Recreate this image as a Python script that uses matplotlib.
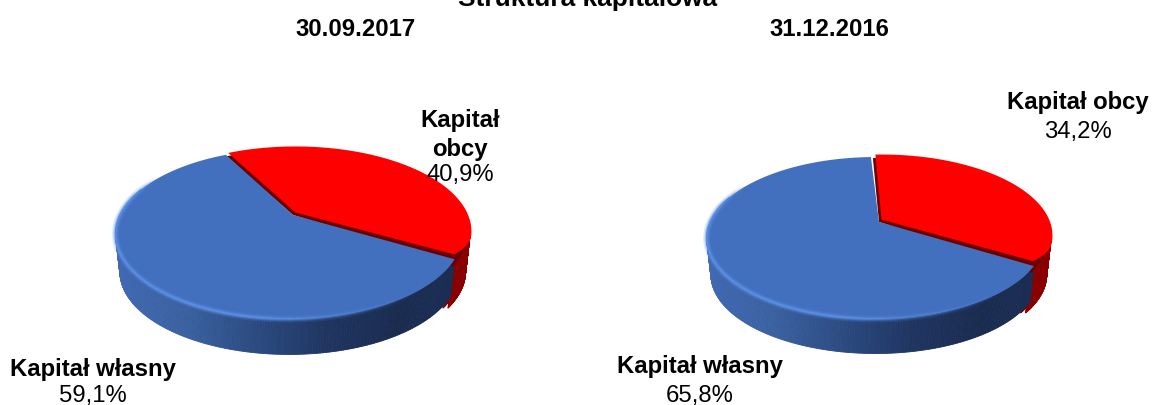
import numpy as np
import matplotlib
matplotlib.use('Agg')
import matplotlib.pyplot as plt
from matplotlib.collections import LineCollection, PolyCollection
from matplotlib.colors import LinearSegmentedColormap, to_rgba

plt.rcParams['font.family'] = ['Liberation Sans', 'DejaVu Sans']

title = 'Struktura kapitałowa'
dates = ['30.09.2017', '31.12.2016']
labels = ['Kapitał własny', 'Kapitał obcy']
own = [59.1, 65.8]
debt = [40.9, 34.2]

# 3d look: hub x, hub y, half width, perspective terms, first angle, gap
pies = [
    dict(cx=293, cy=216, X=171.5, A=80.8, C=-0.2235, start=-28, gap=-1.4, depth=38, s=0.975, shift=-4),
    dict(cx=879, cy=223, X=167.6, A=77.8, C=-0.1975, start=-2.5, gap=-0.6, depth=37, s=0.975, shift=-3.5),
]

side_blue = LinearSegmentedColormap.from_list('b', ['#4169B2', '#3A609F', '#2B4A80', '#1F3560', '#1A2B50', '#1C2E55'])
side_red = LinearSegmentedColormap.from_list('r', ['#6E0000', '#7E0000', '#8A0000'])


def project(p, ang, r=1.0, dx=0.0, dy=0.0, xs=1.0):
    t = np.radians(ang)
    u = r * np.sin(t)
    v = -r * np.cos(t)
    w = 1 + p['C'] * v
    return p['cx'] + dx + xs * p['X'] * u / w, p['cy'] + dy + p['A'] * v / w


def wedge(p, a0, a1, dx=0.0, dy=0.0, xs=1.0, hub=(0.0, 0.0), r=1.0):
    ang = np.linspace(a0, a1, 200)
    x, y = project(p, ang, r=r, dx=dx, dy=dy, xs=xs)
    hx, hy = p['cx'] + hub[0], p['cy'] + hub[1]
    return np.column_stack([np.r_[hx, x], np.r_[hy, y]])


def draw_side(ax, p, a0, a1, cmap, dx=0.0, dy=0.0, xs=1.0):
    ang = np.linspace(a0, a1, 240)
    x, y = project(p, ang, dx=dx, dy=dy, xs=xs)
    bx = p['cx'] + dx + (x - p['cx'] - dx) * p['s']
    by = p['cy'] + dy + (y - p['cy'] - dy) * p['s'] + p['depth']
    quads, cols = [], []
    for i in range(len(ang) - 1):
        quads.append([(x[i], y[i]), (x[i + 1], y[i + 1]), (bx[i + 1], by[i + 1]), (bx[i], by[i])])
        # left side of the pie is lighter, right side darker
        f = np.clip((x[i] - p['cx'] + p['X'] * 1.03) / (2.06 * p['X']), 0, 1)
        cols.append(cmap(f))
    ax.add_collection(PolyCollection(quads, facecolors=cols, edgecolors=cols, linewidths=0.6, zorder=2))


def draw_rim(ax, p, a0, a1, dx, xs):
    # light edge of the blue top, strongest at the front left
    ang = np.linspace(a0, a1, 240)
    x, y = project(p, ang, dx=dx, xs=xs)
    pts = np.column_stack([x, y]).reshape(-1, 1, 2)
    segs = np.concatenate([pts[:-1], pts[1:]], axis=1)
    f = np.clip((p['cx'] + p['X'] * 0.75 - x[:-1]) / (1.0 * p['X']), 0, 1)
    f = f * np.clip((a1 - ang[:-1]) / 18, 0, 1)
    for lw, al in [(5, 0.2), (3, 0.4), (1.5, 0.7)]:
        cols = [to_rgba('#5F93EA', al * k) for k in f]
        ax.add_collection(LineCollection(segs, colors=cols, linewidths=lw, zorder=5, capstyle='butt'))


fig = plt.figure(figsize=(11.52, 4.06), dpi=100)
ax = fig.add_axes([0, 0, 1, 1])
ax.set_xlim(0, 1152)
ax.set_ylim(406, 0)
ax.axis('off')

for p, a, b in zip(pies, own, debt):
    red_end = p['start'] + 360 * b / 100
    blue_end = p['start'] + 360 - p['gap']
    xs = 1 + p['shift'] / p['X'] * 0.6
    # red corner at the front gets rounded in
    ang = np.linspace(p['start'], red_end, 200)
    taper = 1 - 0.05 * np.clip((ang - (red_end - 14)) / 14, 0, 1) ** 2
    draw_side(ax, p, 70, red_end + 8, side_red, dx=1)
    draw_side(ax, p, 70, red_end + 8, side_red, dx=-4)
    draw_side(ax, p, red_end, 290, side_blue, dx=p['shift'], xs=xs)
    ax.fill(*wedge(p, p['start'], red_end, dy=1, r=(1 + taper) / 2).T, color='#6A0000', lw=0, zorder=3)
    ax.fill(*wedge(p, red_end - 3, red_end + 4, dy=1, dx=-3).T, color='#6A0000', lw=0, zorder=3)
    ax.fill(*wedge(p, p['start'], red_end, dx=2.5, dy=-2.5, hub=(2.5, -2.5), r=taper).T, color='#FF0000', lw=0, zorder=4)
    ax.fill(*wedge(p, red_end, blue_end, dx=p['shift'], xs=xs).T, color='#4270BF', lw=0, zorder=4)
    draw_rim(ax, p, red_end, 300, p['shift'], xs)

txt = dict(ha='center', va='center', color='black', fontsize=17.2, zorder=8)
ax.text(588, -1, title, fontweight='bold', ha='center', va='center', color='black', fontsize=18.9, zorder=8)
ax.text(356, 30, dates[0], fontweight='bold', **txt)
ax.text(829, 30, dates[1], fontweight='bold', **txt)


def pct(v):
    return f'{v:.1f}%'.replace('.', ',')


ax.text(460, 121, labels[1].split()[0], fontweight='bold', **txt)
ax.text(460, 150, labels[1].split()[1], fontweight='bold', **txt)
ax.text(460, 175, pct(debt[0]), **txt)
ax.text(93, 370, labels[0], fontweight='bold', **txt)
ax.text(93, 396, pct(own[0]), **txt)
ax.text(1078, 102, labels[1], fontweight='bold', **txt)
ax.text(1078, 132, pct(debt[1]), **txt)
ax.text(700, 367, labels[0], fontweight='bold', **txt)
ax.text(700, 396, pct(own[1]), **txt)

fig.savefig('out.png', dpi=100)
